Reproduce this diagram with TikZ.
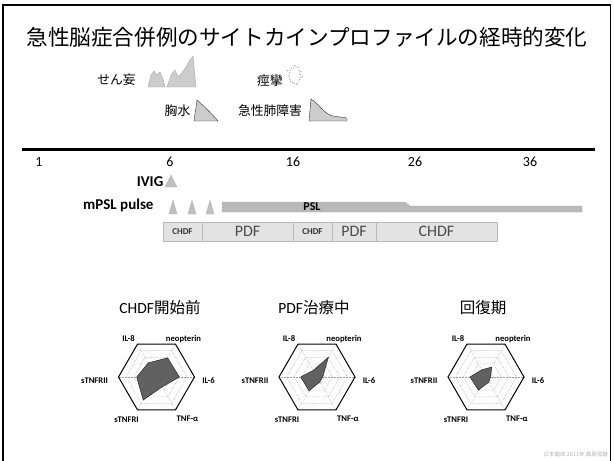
\documentclass[tikz,border=0pt]{standalone}
\usepackage{fontspec}
\setmainfont{Carlito}
\newfontfamily\jp{Noto Sans CJK JP}
\usetikzlibrary{shapes.symbols}
\tikzset{
  jplbl/.style={font=\fontsize{12.8}{14}\selectfont\jp, inner sep=0pt},
  daynum/.style={font=\fontsize{14}{16}\selectfont, inner sep=0pt},
  druglbl/.style={font=\fontsize{15}{17}\selectfont\bfseries, inner sep=0pt},
  tbox/.style={draw=gray!55, fill=gray!22, line width=0.5pt},
  smalltx/.style={font=\fontsize{9}{10}\selectfont\bfseries, text=black!80, inner sep=0pt},
  bigtx/.style={font=\fontsize{16}{18}\selectfont, text=black!70, inner sep=0pt},
  rlabel/.style={font=\fontsize{8.6}{9}\selectfont\bfseries, inner sep=0pt},
  rtitle/.style={font=\fontsize{15.5}{17}\selectfont, inner sep=0pt},
  ring/.style={densely dotted, gray!75, line width=0.5pt},
  outerhex/.style={draw=black, line width=1pt},
  datafill/.style={fill=black!62, draw=black!85, line width=0.5pt},
  iconfill/.style={fill=gray!40, draw=gray!65, line width=0.4pt},
  pulse/.style={fill=gray!50, draw=gray!60, line width=0.3pt},
}
\newcommand\myradar[8]{%
\begin{scope}[shift={(#2)}]
  \foreach \f in {0.2,0.4,0.6,0.8}{%
    \pgfmathsetmacro\rr{\f*38}
    \draw[ring] (0:\rr pt) -- (60:\rr pt) -- (120:\rr pt) -- (180:\rr pt) -- (240:\rr pt) -- (300:\rr pt) -- cycle;}
  \foreach \a in {0,60,...,300} \draw[ring] (0,0) -- (\a:38pt);
  \pgfmathsetmacro\va{#3*38}\pgfmathsetmacro\vb{#4*38}\pgfmathsetmacro\vc{#5*38}
  \pgfmathsetmacro\vd{#6*38}\pgfmathsetmacro\ve{#7*38}\pgfmathsetmacro\vf{#8*38}
  \draw[datafill] (60:\va pt) -- (0:\vb pt) -- (300:\vc pt) -- (240:\vd pt) -- (180:\ve pt) -- (120:\vf pt) -- cycle;
  \draw[outerhex] (0:38pt) -- (60:38pt) -- (120:38pt) -- (180:38pt) -- (240:38pt) -- (300:38pt) -- cycle;
  \node[rlabel] (#1il8) at (-28,-38) {IL-8};
  \node[rlabel] (#1neo) at (27,-38) {neopterin};
  \node[rlabel] (#1il6) at (52,4) {IL-6};
  \node[rlabel] (#1tnf) at (31,42) {TNF-α};
  \node[rlabel] (#1r1) at (-30,43) {sTNFRI};
  \node[rlabel] (#1r2) at (-62,4) {sTNFRII};
\end{scope}}

\begin{document}
\begin{tikzpicture}[x=1pt,y=-1pt]
\useasboundingbox (0,0) rectangle (614,461);
% frame
\draw[line width=1.6pt] (3,462) -- (3,5) -- (610.5,5) -- (610.5,462);
% title
\node[font=\fontsize{21.6}{24}\selectfont\jp, inner sep=0pt] (title) at (307,37) {急性脳症合併例のサイトカインプロファイルの経時的変化};
% legend
\node[jplbl] (delir) at (116.5,80) {せん妄};
\draw[iconfill] (148,87) -- (151,75) -- (154,71) -- (157,75) -- (160,72) -- (163,79) -- (165,87) -- (167,87) -- (171,75) -- (175,70) -- (178,77) -- (181,74) -- (186,67) -- (190,60) -- (193,56) -- (196,87) -- cycle;
\node[jplbl] (seiz) at (270,81) {痙攣};
\node[starburst, draw=gray!80, dotted, line width=0.9pt, fill=white, minimum width=17pt, minimum height=22pt, starburst points=11, starburst point height=3.5pt, inner sep=0pt] (burst) at (295,75) {};
\node[jplbl] (pleur) at (177.5,111) {胸水};
\draw[iconfill, draw=black!80] (194,121) -- (197,100) .. controls (205,107) and (212,114) .. (218,121) -- cycle;
\node[jplbl] (ali) at (270,111) {急性肺障害};
\draw[iconfill, draw=black!80] (309,121) -- (311,99) .. controls (319,104) and (324,114) .. (333,116) -- (347,118) -- (347,121) -- cycle;
% timeline
\coordinate (tl0) at (22,149);
\coordinate (tl1) at (595,149);
\draw[line width=3pt] (tl0) -- (tl1);
\node[daynum] (d1) at (39,162) {1};
\node[daynum] (d6) at (170,162) {6};
\node[daynum] (d16) at (293,162) {16};
\node[daynum] (d26) at (415,162) {26};
\node[daynum] (d36) at (530,162) {36};
% IVIG
\node[druglbl, anchor=east] (ivig) at (163.5,181.5) {IVIG};
\draw[pulse] (165,187) -- (171,175) -- (177,187) -- cycle;
% mPSL
\node[druglbl, anchor=west] (mpsl) at (83,205.5) {mPSL pulse};
\foreach \px in {173,192,210}{\draw[pulse] (\px-4,214) -- (\px,200) -- (\px+4,214) -- cycle;}
\draw[fill=gray!55, draw=gray!65, line width=0.3pt] (222,202) -- (405,202) -- (410,206) -- (582,206) -- (582,212) -- (222,212) -- cycle;
\node[font=\fontsize{12}{13}\selectfont\bfseries, inner sep=0pt] (psl) at (312,207) {PSL};
% treatment boxes
\draw[tbox] (163,222) rectangle (202,241);
\draw[tbox] (202,222) rectangle (293,241);
\draw[tbox] (293,222) rectangle (332,241);
\draw[tbox] (332,222) rectangle (376,241);
\draw[tbox] (376,222) rectangle (497,241);
\node[smalltx] (c1) at (182.5,231.5) {CHDF};
\node[bigtx] (p1) at (247.5,231.5) {PDF};
\node[smalltx] (c2) at (312.5,231.5) {CHDF};
\node[bigtx] (p2) at (354,231.5) {PDF};
\node[bigtx] (c3) at (436.5,231.5) {CHDF};
% radar titles
\node[rtitle] (t1) at (160,308) {CHDF{\jp 開始前}};
\node[rtitle] (t2) at (314,308) {PDF{\jp 治療中}};
\node[rtitle, font=\fontsize{15.5}{17}\selectfont\jp] (t3) at (483,308) {回復期};
% radars
\myradar{a}{156.5,377}{0.58}{0.6}{0.3}{0.7}{0.52}{0.43}
\myradar{b}{317,377}{0.6}{0.15}{0.15}{0.42}{0.43}{0.2}
\myradar{c}{486,377}{0.3}{0.12}{0.15}{0.4}{0.42}{0.22}
% footer
\node[font=\fontsize{5.5}{6}\selectfont\jp, text=gray!60, inner sep=0pt, anchor=east] (foot) at (608,454) {日本臨床 2011年 森島恒雄};
\end{tikzpicture}
\end{document}
